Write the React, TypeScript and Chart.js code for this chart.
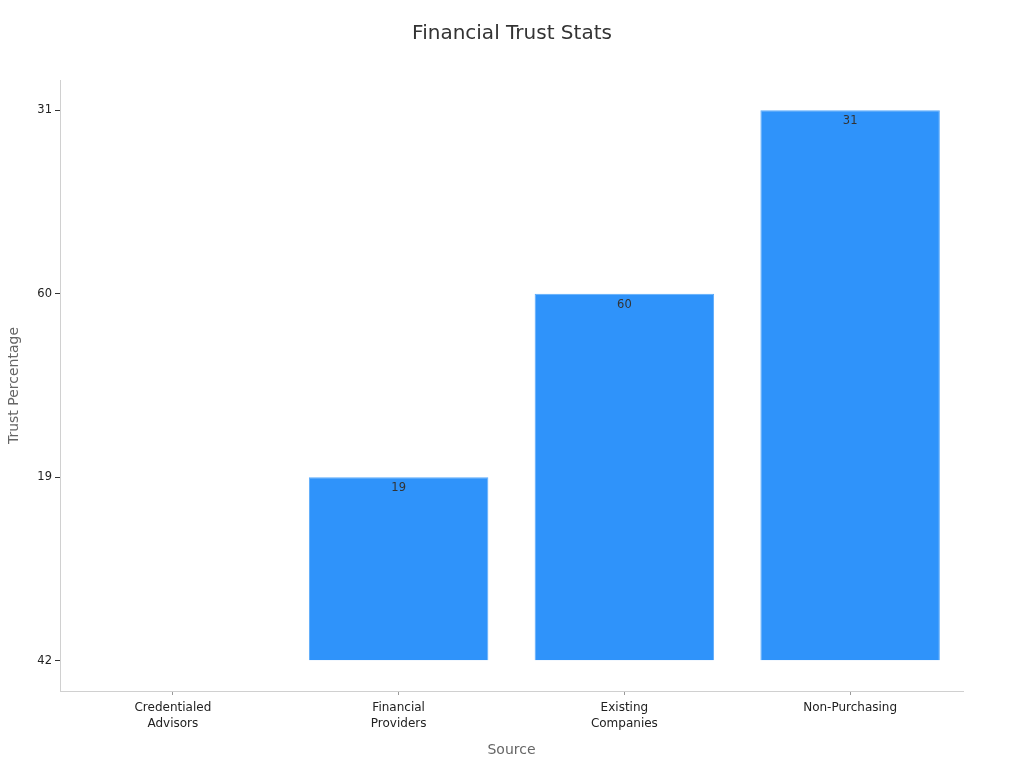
import React, { useEffect, useRef } from 'react';
import { Chart, ChartConfiguration, Plugin, registerables } from 'chart.js';

Chart.register(...registerables);

const categories = [['Credentialed', 'Advisors'], ['Financial', 'Providers'], ['Existing', 'Companies'], 'Non-Purchasing'];
// y axis is categorical, bottom to top
const yLabels = ['42', '19', '60', '31'];
const values = [42, 19, 60, 31];
const chartTitle = 'Financial Trust Stats';

const FONT = "'DejaVu Sans', sans-serif";

const barLabels: Plugin = {
  id: 'barLabels',
  afterDatasetsDraw(chart) {
    const ctx = chart.ctx;
    const meta = chart.getDatasetMeta(0);
    ctx.save();
    ctx.font = `11.5px ${FONT}`;
    ctx.fillStyle = '#333';
    ctx.textAlign = 'center';
    ctx.textBaseline = 'middle';
    meta.data.forEach((bar: any, i) => {
      if (yLabels.indexOf(String(values[i])) === 0) return;
      ctx.fillText(String(values[i]), bar.x, bar.y + 11);
    });
    ctx.restore();
  },
};

// title centred on the whole canvas
const pageTitle: Plugin = {
  id: 'pageTitle',
  afterDraw(chart) {
    const ctx = chart.ctx;
    ctx.save();
    ctx.font = `20px ${FONT}`;
    ctx.fillStyle = '#333';
    ctx.textAlign = 'center';
    ctx.textBaseline = 'middle';
    ctx.fillText(chartTitle, chart.width / 2, 34);
    ctx.restore();
  },
};

export default function App() {
  const canvasRef = useRef<HTMLCanvasElement | null>(null);

  useEffect(() => {
    if (!canvasRef.current) return;
    const config: ChartConfiguration = {
      type: 'bar',
      data: {
        labels: categories as any,
        datasets: [
          {
            data: values.map(v => yLabels.indexOf(String(v))),
            backgroundColor: '#2f93fa',
            borderColor: '#5aaafb',
            borderWidth: 1,
            barPercentage: 0.795,
            categoryPercentage: 1,
          },
        ],
      },
      options: {
        animation: false,
        responsive: true,
        maintainAspectRatio: false,
        layout: { padding: { left: 1, right: 61, top: 80, bottom: 0 } },
        plugins: {
          legend: { display: false },
          tooltip: { enabled: false },
          title: { display: false },
        },
        scales: {
          x: {
            offset: true,
            grid: {
              display: true,
              offset: false,
              drawOnChartArea: false,
              drawTicks: true,
              tickLength: 4,
              color: '#999',
            },
            border: { display: true, color: '#d0d0d0' },
            ticks: {
              color: '#222',
              font: { family: FONT, size: 12, lineHeight: 1.35 },
              padding: 5,
              maxRotation: 0,
            },
            title: {
              display: true,
              text: 'Source',
              color: '#666',
              font: { family: FONT, size: 14 },
              padding: { top: 10, bottom: 9 },
            },
            afterFit: (scale: any) => {
              scale.height = 77;
            },
          },
          y: {
            type: 'linear',
            min: -0.165,
            max: 3.165,
            grid: {
              display: true,
              drawOnChartArea: false,
              drawTicks: true,
              tickLength: 5,
              color: '#333',
            },
            border: { display: true, color: '#d0d0d0' },
            afterBuildTicks: (scale: any) => {
              scale.ticks = yLabels.map((_, i) => ({ value: i }));
            },
            ticks: {
              color: '#222',
              font: { family: FONT, size: 11.5 },
              padding: 3,
              callback: (v: any) => yLabels[Number(v)] ?? '',
            },
            title: {
              display: true,
              text: 'Trust Percentage',
              color: '#666',
              font: { family: FONT, size: 14 },
              padding: { top: 5, bottom: 0 },
            },
            afterFit: (scale: any) => {
              scale.width = 59;
            },
          },
        },
      },
      plugins: [barLabels, pageTitle],
    };
    const chart = new Chart(canvasRef.current, config);
    return () => chart.destroy();
  }, []);

  return (
    <div style={{ position: 'fixed', left: 0, top: 0, width: 1024, height: 768, background: '#fff' }}>
      <canvas ref={canvasRef} />
    </div>
  );
}
